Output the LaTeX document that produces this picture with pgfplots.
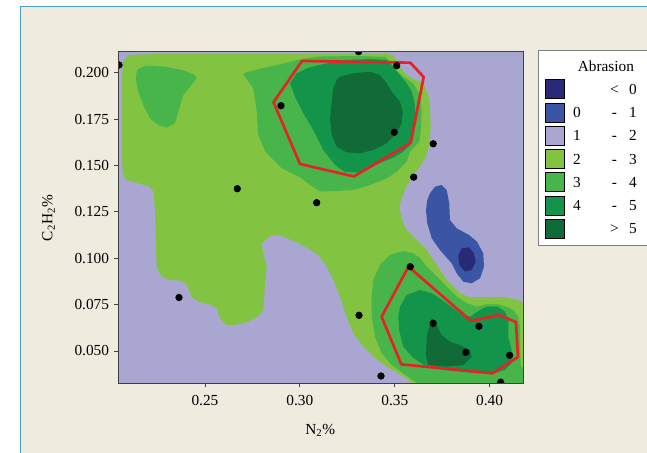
\documentclass[border=0pt]{standalone}
\usepackage{fontspec}
\setmainfont{Liberation Serif}
\usepackage{pgfplots}
\pgfplotsset{compat=1.18}
\definecolor{navyc}{RGB}{40,42,120}
\definecolor{bluec}{RGB}{59,85,165}
\definecolor{lavc}{RGB}{169,167,210}
\definecolor{lgreen}{RGB}{130,195,65}
\definecolor{mgreen}{RGB}{71,181,73}
\definecolor{ggreen}{RGB}{18,149,74}
\definecolor{dgreen}{RGB}{16,107,57}
\definecolor{redc}{RGB}{230,34,41}
\definecolor{beige}{RGB}{240,235,223}
\definecolor{framec}{RGB}{74,160,200}
\newcommand{\lrow}[3]{\hspace*{9.3pt}\makebox[0pt]{#1}\hspace*{28.2pt}\makebox[0pt]{#2}\hspace*{13.8pt}\makebox[0pt]{#3}\hspace*{15pt}}
\begin{document}
\fontsize{11.5pt}{13.8pt}\selectfont
\begin{tikzpicture}
\useasboundingbox (0,0) rectangle (485.25pt,339.75pt);
\clip (0,0) rectangle (485.25pt,339.75pt);
\fill[white] (0,0) rectangle (485.25pt,339.75pt);
\fill[beige] (15.5pt,0) rectangle (485.25pt,334.7pt);
\draw[framec, line width=1pt] (15.5pt,-1pt) -- (15.5pt,334.7pt) -- (490pt,334.7pt);
\begin{axis}[
  at={(88.8pt,52.28pt)}, anchor=south west,
  width=303.5pt, height=248.7pt, scale only axis,
  xmin=0.20437, xmax=0.4176, ymin=0.03259, ymax=0.21132,
  axis background/.style={fill=lavc},
  axis on top,
  clip marker paths=true,
  tick align=outside, tick pos=left,
  major tick length=3pt,
  axis line style={black!75, line width=0.8pt},
  tick style={black!75, line width=0.6pt},
  /pgf/number format/assume math mode=true,
  xtick={0.25,0.30,0.35,0.40}, xticklabels={0.25,0.30,0.35,0.40},
  xticklabel style={yshift=-2.2pt},
  ytick={0.05,0.075,0.1,0.125,0.15,0.175,0.2},
  yticklabels={0.050,0.075,0.100,0.125,0.150,0.175,0.200},
  xlabel={N\textsubscript{2}\%}, ylabel={C\textsubscript{2}H\textsubscript{2}\%},
  every axis x label/.style={at={(axis description cs:0.4989,-0.1538)}, anchor=base},
  every axis y label/.style={at={(axis description cs:-0.1631,0.4985)}, anchor=base, rotate=90},
  legend style={at={(1,1)}, anchor=north west, xshift=11.4pt, yshift=1.3pt,
    draw=black!50, line width=0.6pt, fill=white, inner xsep=4.5pt, inner ysep=5pt,
    row sep=2.6pt, column sep=0pt,
    nodes={inner sep=0pt, text height=10.9pt, text depth=3.3pt},
    cells={anchor=west}},
  legend image code/.code={\fill[#1] (0pt,-7.125pt) rectangle (14.25pt,7.125pt);},
]
% 2 - 3
\addplot[fill=lgreen, draw=none, forget plot] coordinates {
(0.21486,0.20992) (0.34485,0.21035) (0.34922,0.20954) (0.35186,0.20507) (0.35448,0.20054) (0.35891,0.19698) (0.36328,0.19515) (0.36591,0.19245) (0.36765,0.18798) (0.36855,0.18259) (0.36892,0.17003) (0.36818,0.16103) (0.36681,0.15564) (0.36328,0.14934) (0.35975,0.14486) (0.35658,0.13947) (0.35416,0.13408) (0.35274,0.12869) (0.35274,0.12600) (0.35379,0.12061) (0.35627,0.11522) (0.35975,0.11161) (0.36328,0.10805) (0.36681,0.10444) (0.37029,0.09905) (0.37382,0.09366) (0.37735,0.08827) (0.38083,0.08466) (0.38436,0.08110) (0.38962,0.07894) (0.39842,0.07910) (0.40717,0.07910) (0.41423,0.07776) (0.4176,0.07587) (0.425,0.0755) (0.425,0.025) (0.3634,0.029) (0.35590,0.03528) (0.35186,0.03798) (0.34574,0.04154) (0.33868,0.04693) (0.33341,0.05232) (0.32814,0.05954) (0.32466,0.06849) (0.32113,0.07911) (0.31760,0.08827) (0.31412,0.09544) (0.30970,0.10174) (0.30443,0.10535) (0.29743,0.10891) (0.29042,0.11198) (0.28515,0.11252) (0.27988,0.10805) (0.28073,0.10262) (0.28252,0.09544) (0.28163,0.08654) (0.28073,0.07210) (0.27777,0.06849) (0.27250,0.06558) (0.26581,0.06401) (0.26144,0.06401) (0.25791,0.06762) (0.25617,0.07301) (0.25353,0.07479) (0.24648,0.07657) (0.24301,0.07911) (0.24037,0.08557) (0.23774,0.08789) (0.23067,0.08827) (0.22720,0.09018) (0.22456,0.09470) (0.22403,0.11161) (0.22366,0.12600) (0.22277,0.13624) (0.22013,0.13893) (0.21312,0.14077) (0.20785,0.14255) (0.20643,0.14702) (0.20612,0.19698) (0.20696,0.20685) (0.20959,0.20954)
} -- cycle;
% 3 - 4
\addplot[fill=mgreen, draw=none, forget plot] coordinates {
(0.21418,0.20146) (0.21855,0.20377) (0.22909,0.20323) (0.23789,0.20146) (0.24474,0.19876) (0.24564,0.19698) (0.24211,0.19245) (0.23858,0.18798) (0.23594,0.17898) (0.23420,0.17273) (0.22983,0.17036) (0.22540,0.17181) (0.22103,0.17542) (0.21750,0.18259) (0.21486,0.18976) (0.21349,0.19698)
} -- cycle;
\addplot[fill=mgreen, draw=none, forget plot] coordinates {
(0.27019,0.19968) (0.27988,0.20237) (0.29042,0.20469) (0.30095,0.20738) (0.31059,0.20873) (0.33167,0.20900) (0.34485,0.20846) (0.34748,0.20631) (0.34959,0.20253) (0.35448,0.19784) (0.35975,0.19429) (0.36328,0.18798) (0.36418,0.17898) (0.36381,0.17003) (0.36291,0.16281) (0.35801,0.15742) (0.35627,0.15203) (0.35101,0.14664) (0.34574,0.14308) (0.33694,0.13947) (0.32814,0.13678) (0.31939,0.13624) (0.31059,0.13597) (0.30532,0.13947) (0.30095,0.14308) (0.29042,0.14860) (0.28178,0.15742) (0.27809,0.16642) (0.27725,0.17898) (0.27546,0.19159) (0.27108,0.19768)
} -- cycle;
\addplot[fill=mgreen, draw=none, forget plot] coordinates {
(0.34221,0.09635) (0.34748,0.10174) (0.35448,0.10390) (0.35975,0.10262) (0.36328,0.10020) (0.36681,0.09544) (0.37224,0.09018) (0.37735,0.08466) (0.38278,0.07911) (0.38805,0.07571) (0.39332,0.07388) (0.39842,0.07517) (0.40433,0.07517) (0.40896,0.07388) (0.41244,0.07210) (0.41507,0.06849) (0.41596,0.06310) (0.41596,0.05054) (0.41649,0.04154) (0.425,0.037) (0.425,0.025) (0.3665,0.029) (0.35448,0.03798) (0.34838,0.04246) (0.34311,0.04876) (0.33958,0.05771) (0.33784,0.06849) (0.33784,0.07911) (0.33868,0.08827) (0.34063,0.09274)
} -- cycle;
% 4 - 5
\addplot[fill=ggreen, draw=none, forget plot] coordinates {
(0.29480,0.19429) (0.29833,0.19968) (0.30358,0.20237) (0.31233,0.20469) (0.32377,0.20685) (0.33694,0.20738) (0.34574,0.20685) (0.34838,0.20415) (0.35186,0.19968) (0.35627,0.19429) (0.35891,0.18976) (0.36065,0.18259) (0.36065,0.17355) (0.35975,0.16642) (0.35801,0.16103) (0.35448,0.15742) (0.34922,0.15410) (0.34221,0.15141) (0.33694,0.14860) (0.32993,0.14621) (0.32377,0.14648) (0.31850,0.15025) (0.31233,0.15833) (0.30706,0.16912) (0.30179,0.17812) (0.29743,0.18706)
} -- cycle;
\addplot[fill=ggreen, draw=none, forget plot] coordinates {
(0.35274,0.07388) (0.35627,0.08018) (0.36328,0.08288) (0.36971,0.08110) (0.37735,0.07571) (0.38436,0.07032) (0.38962,0.06849) (0.39490,0.07210) (0.39842,0.07388) (0.40433,0.07388) (0.40806,0.07118) (0.40980,0.06671) (0.40980,0.05771) (0.41159,0.05054) (0.41159,0.04337) (0.40806,0.03978) (0.40191,0.03798) (0.39332,0.03798) (0.38436,0.03884) (0.37556,0.03975) (0.36681,0.04154) (0.35975,0.04630) (0.35448,0.05232) (0.35228,0.06132) (0.35186,0.06849)
} -- cycle;
% > 5
\addplot[fill=dgreen, draw=none, forget plot] coordinates {
(0.32113,0.19784) (0.32814,0.19968) (0.33694,0.20054) (0.34221,0.19876) (0.34574,0.19429) (0.34838,0.18976) (0.35274,0.18437) (0.35416,0.17898) (0.35363,0.17273) (0.35012,0.16642) (0.34574,0.16195) (0.33868,0.15833) (0.33167,0.15656) (0.32466,0.15709) (0.31939,0.16012) (0.31681,0.16642) (0.31586,0.17542) (0.31681,0.18437) (0.31760,0.19159) (0.31939,0.19607)
} -- cycle;
\addplot[fill=dgreen, draw=none, forget plot] coordinates {
(0.36950,0.06779) (0.36681,0.05771) (0.36644,0.04693) (0.36765,0.04246) (0.37735,0.04154) (0.38610,0.04246) (0.39053,0.04693) (0.38962,0.05054) (0.38436,0.05323) (0.37908,0.05501) (0.37472,0.05862) (0.37208,0.06401)
} -- cycle;
% 0 - 1
\addplot[fill=bluec, draw=none, forget plot] coordinates {
(0.36855,0.13500) (0.37119,0.13856) (0.37472,0.13947) (0.37735,0.13678) (0.37872,0.12961) (0.37908,0.12061) (0.38261,0.11613) (0.38911,0.11252) (0.39332,0.10891) (0.39664,0.10262) (0.39701,0.09544) (0.39490,0.08918) (0.39053,0.08649) (0.38610,0.08735) (0.38261,0.09188) (0.37997,0.09727) (0.37382,0.10444) (0.36950,0.11071) (0.36713,0.11883) (0.36644,0.12600) (0.36713,0.13139)
} -- cycle;
% < 0
\addplot[fill=navyc, draw=none, forget plot] coordinates {
(0.38346,0.10174) (0.38526,0.10535) (0.38911,0.10589) (0.39174,0.10262) (0.39264,0.09813) (0.39053,0.09366) (0.38700,0.09274) (0.38400,0.09635)
} -- cycle;
% red outlines
\addplot[draw=redc, line width=2pt, line join=round, forget plot] coordinates {
(0.30111,0.20631) (0.35817,0.20539) (0.36523,0.19768) (0.35838,0.16211) (0.32841,0.14408) (0.30005,0.15079) (0.28610,0.18405)
} -- cycle;
\addplot[draw=redc, line width=2pt, line join=round, forget plot] coordinates {
(0.35722,0.09544) (0.39025,0.06617) (0.40491,0.06940) (0.41386,0.06558) (0.41491,0.04676) (0.40159,0.03798) (0.35343,0.04283) (0.34306,0.06849)
} -- cycle;
% design points
\addplot[only marks, mark=*, mark size=2.5pt, mark options={draw=black, fill=black}, forget plot] coordinates {
(0.20469,0.20415) (0.33094,0.21132) (0.35101,0.20377) (0.29005,0.18221) (0.34975,0.16788) (0.37024,0.16168) (0.35996,0.14370) (0.26702,0.13748) (0.30885,0.12993) (0.23631,0.07884) (0.35817,0.09544) (0.33115,0.06924) (0.37024,0.06493) (0.39437,0.06331) (0.38747,0.04930) (0.41054,0.04768) (0.34274,0.03652) (0.40580,0.03318) (0.41686,0.03243)
};
\addlegendimage{empty legend}
\addlegendentry{\hspace*{10pt}Abrasion}
\addlegendimage{fill=navyc}
\addlegendentry{\lrow{}{<}{0}}
\addlegendimage{fill=bluec}
\addlegendentry{\lrow{0}{-}{1}}
\addlegendimage{fill=lavc}
\addlegendentry{\lrow{1}{-}{2}}
\addlegendimage{fill=lgreen}
\addlegendentry{\lrow{2}{-}{3}}
\addlegendimage{fill=mgreen}
\addlegendentry{\lrow{3}{-}{4}}
\addlegendimage{fill=ggreen}
\addlegendentry{\lrow{4}{-}{5}}
\addlegendimage{fill=dgreen}
\addlegendentry{\lrow{}{>}{5}}
\end{axis}
\end{tikzpicture}
\end{document}
